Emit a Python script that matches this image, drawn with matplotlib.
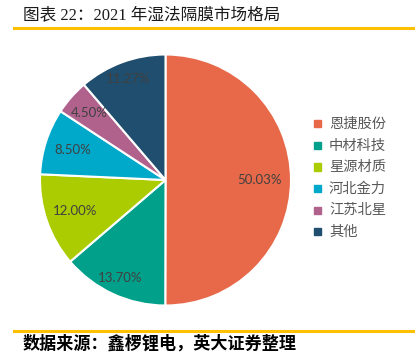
import matplotlib
matplotlib.use("Agg")
import matplotlib.pyplot as plt
import numpy as np

categories = ["恩捷股份", "中材科技", "星源材质", "河北金力", "江苏北星", "其他"]
values = [50.03, 13.70, 12.00, 8.50, 4.50, 11.27]
labels = ["50.03%", "13.70%", "12.00%", "8.50%", "4.50%", "11.27%"]
colors = ["#E8694A", "#00A08A", "#AACC00", "#00A9C9", "#B0628D", "#1F4E6E"]
label_dist = [0.75, 0.86, 0.76, 0.78, 0.81, 0.86]

W, H = 415, 357
fig = plt.figure(figsize=(W / 100, H / 100), dpi=100)
fig.patch.set_facecolor("white")

cjk = ["Noto Sans CJK SC", "DejaVu Sans"]

# title and rules
fig.text(23 / W, 1 - 15 / H, "图表 22：2021 年湿法隔膜市场格局",
         family=["Liberation Serif", "Noto Sans CJK SC"],
         fontsize=12, color="#1a1a1a", va="center", ha="left")
fig.add_artist(plt.Line2D([14 / W, 1], [1 - 28 / H] * 2, color="#FFC000", lw=2.2))
fig.add_artist(plt.Line2D([14 / W, 1], [1 - 331 / H] * 2, color="#FFC000", lw=2.2))
fig.text(23 / W, 1 - 344 / H, "数据来源：鑫椤锂电，英大证券整理", family=cjk,
         fontsize=12.3, fontweight="bold", color="#000000", va="center", ha="left")

# pie
cx, cy, r = 165.5, 180, 125.5
ax = fig.add_axes([(cx - r) / W, (H - cy - r) / H, 2 * r / W, 2 * r / H])
wedges, _ = ax.pie(values, colors=colors, startangle=90, counterclock=False,
                   wedgeprops=dict(edgecolor="white", linewidth=1.5), radius=1)
for w, lab, d in zip(wedges, labels, label_dist):
    ang = np.deg2rad((w.theta1 + w.theta2) / 2)
    ax.text(d * np.cos(ang), d * np.sin(ang), lab, ha="center", va="center",
            fontsize=9.5, color="#404040", family=["Lato", "DejaVu Sans"])
ax.set_xlim(-1, 1)
ax.set_ylim(-1, 1)
ax.set_aspect("equal")
ax.axis("off")

# legend
for i, (cat, col) in enumerate(zip(categories, colors)):
    y = 1 - (124 + i * 21.5) / H
    fig.patches.append(plt.Rectangle((314 / W, y - 3.5 / H), 7 / W, 7 / H,
                                     transform=fig.transFigure, color=col, figure=fig))
    fig.text(329 / W, y, cat, family=cjk, fontsize=10.3, color="#595959",
             va="center", ha="left")

fig.savefig("out.png", dpi=100)
